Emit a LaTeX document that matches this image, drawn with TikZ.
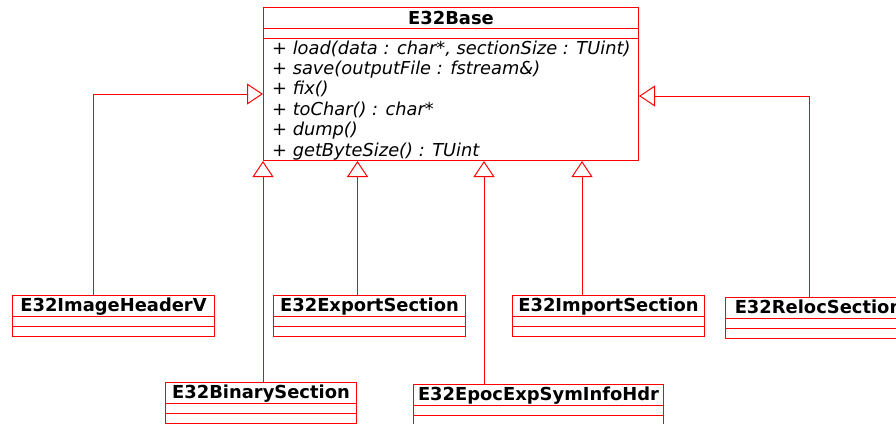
\documentclass[tikz,border=0pt]{standalone}
\usepackage{fontspec}
\setmainfont{DejaVu Sans}
\usetikzlibrary{arrows.meta,calc}
\tikzset{
  cls/.style={draw=red, line width=1pt, fill=white, inner sep=0pt, minimum height=41pt},
  cl/.style={draw=red, line width=1pt},
  ttl/.style={anchor=base, inner sep=0pt, font=\bfseries\fontsize{17.9}{20}\selectfont},
  meth/.style={anchor=base west, inner sep=0pt, font=\itshape\fontsize{17.8}{20}\selectfont},
  inh/.style={draw=red, line width=1pt, -{Triangle[open, fill=white, length=16pt, width=21pt]}}
}
\newcommand{\klass}[5]{%
  \node[cls, minimum width=#4pt, anchor=north west] (#1) at (#2,#3) {};
  \draw[cl] ($(#1.north west)+(0,21)$) -- ($(#1.north east)+(0,21)$);
  \draw[cl] ($(#1.north west)+(0,31)$) -- ($(#1.north east)+(0,31)$);
  \node[ttl] (#1-t) at ($(#1.north)+(0,16.7)$) {#5};
}
\begin{document}
\begin{tikzpicture}[x=1pt,y=-1pt]
\useasboundingbox (0,0) rectangle (896,423);
\clip (0,0) rectangle (896,423);
% base class
\node[cls, minimum width=375pt, minimum height=153pt, anchor=north west] (base) at (263,7) {};
\draw[cl] ($(base.north west)+(0,21)$) -- ($(base.north east)+(0,21)$);
\draw[cl] ($(base.north west)+(0,31)$) -- ($(base.north east)+(0,31)$);
\node[ttl] (base-t) at ($(base.north)+(0,17)$) {E32Base};
\node[meth] (m1) at ($(base.north west)+(9,47)$) {+ load(data : char*, sectionSize : TUint)};
\node[meth] (m2) at ($(base.north west)+(9,67.4)$) {+ save(outputFile : fstream\&)};
\node[meth] (m3) at ($(base.north west)+(9,87.8)$) {+ fix()};
\node[meth] (m4) at ($(base.north west)+(9,108.2)$) {+ toChar() : char*};
\node[meth] (m5) at ($(base.north west)+(9,128.6)$) {+ dump()};
\node[meth] (m6) at ($(base.north west)+(9,149)$) {+ getByteSize() : TUint};
% subclasses
\klass{ihv}{12}{295}{202}{E32ImageHeaderV}
\klass{exp}{273}{295}{192}{E32ExportSection}
\klass{imp}{512}{295}{192}{E32ImportSection}
\klass{rel}{725}{297}{186}{E32RelocSection}
\klass{bin}{165}{382}{191}{E32BinarySection}
\klass{epo}{413}{384}{250}{E32EpocExpSymInfoHdr}
% connector anchors
\coordinate (ihvT) at ($(ihv.north west)+(81,0)$);
\coordinate (expT) at ($(exp.north west)+(84.5,0)$);
\coordinate (impT) at ($(imp.north west)+(70,0)$);
\coordinate (relT) at ($(rel.north west)+(84,0)$);
\coordinate (binT) at ($(bin.north west)+(98,0)$);
\coordinate (epoT) at ($(epo.north west)+(71,0)$);
\coordinate (baseL) at ($(base.north west)+(0,87)$);
\coordinate (baseR) at ($(base.north east)+(0,89)$);
% connectors
\draw[inh] (ihvT) |- (baseL);
\draw[inh] (relT) |- (baseR);
\draw[inh] (binT) -- (binT |- base.south);
\draw[inh] (expT) -- (expT |- base.south);
\draw[inh] (epoT) -- (epoT |- base.south);
\draw[inh] (impT) -- (impT |- base.south);
\end{tikzpicture}
\end{document}
